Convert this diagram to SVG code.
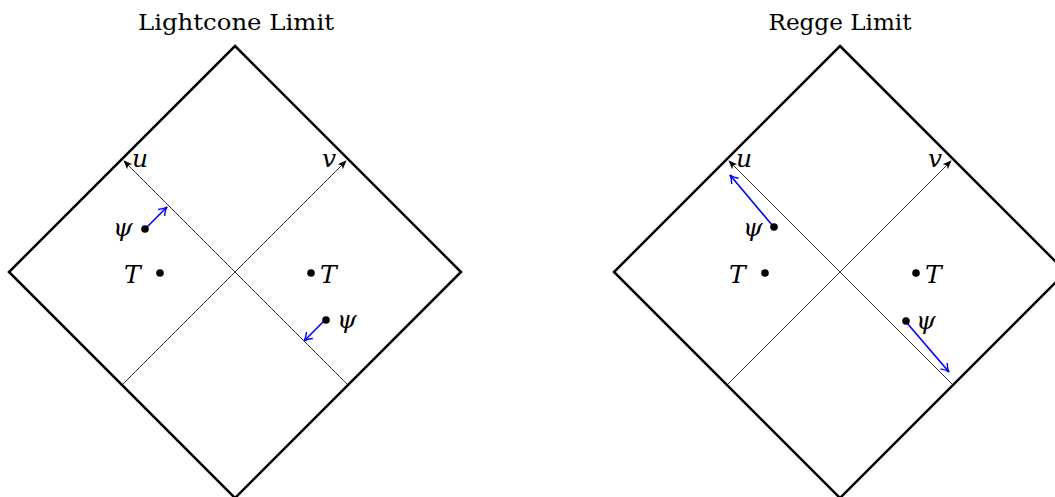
<svg xmlns="http://www.w3.org/2000/svg" width="1055" height="497" viewBox="0 0 1055 497">
<style>
.frame{fill:none;stroke:#000;stroke-width:2.5;stroke-linejoin:miter}
.axis{fill:none;stroke:#000;stroke-width:0.8}
.blue{fill:none;stroke:#0000ff;stroke-width:1.6}
.title{font-family:"DejaVu Serif","Liberation Serif",serif;font-size:23px;fill:#000}
.m{font-family:"DejaVu Serif","Liberation Serif",serif;font-style:italic;font-size:25px;fill:#000}
.dot{fill:#000}
</style>
<defs>
<marker id="ah" viewBox="0 0 10 10" refX="9" refY="5" markerWidth="9" markerHeight="9" markerUnits="userSpaceOnUse" orient="auto">
<path d="M0,1 L10,5 L0,9 L2.5,5 Z" fill="#000"/>
</marker>
<marker id="bh" viewBox="0 0 10 10" refX="9" refY="5" markerWidth="10" markerHeight="10" markerUnits="userSpaceOnUse" orient="auto">
<path d="M1,0.5 Q5,4 9,5 Q5,6 1,9.5" fill="none" stroke="#0000ff" stroke-width="1.4"/>
</marker>
</defs>
<g id="left-title"><text class="title" x="236" y="30" text-anchor="middle" textLength="196" lengthAdjust="spacingAndGlyphs">Lightcone Limit</text></g>
<g id="right-title"><text class="title" x="840" y="30" text-anchor="middle" textLength="143" lengthAdjust="spacingAndGlyphs">Regge Limit</text></g>
<g id="left-diamond"><path class="frame" d="M235,46 L461,272 L235,498 L9,272 Z"/></g>
<g id="right-diamond"><path class="frame" d="M840,46 L1066,272 L840,498 L614,272 Z"/></g>
<g id="connectors">
<line class="axis" x1="348" y1="385" x2="124" y2="161" marker-end="url(#ah)"/>
<line class="axis" x1="122" y1="385" x2="346" y2="161" marker-end="url(#ah)"/>
<line class="axis" x1="953" y1="385" x2="729" y2="161" marker-end="url(#ah)"/>
<line class="axis" x1="727" y1="385" x2="951" y2="161" marker-end="url(#ah)"/>
<line class="blue" x1="146" y1="228" x2="167" y2="207" marker-end="url(#bh)"/>
<line class="blue" x1="325" y1="320" x2="304" y2="341" marker-end="url(#bh)"/>
<line class="blue" x1="772" y1="225" x2="730" y2="175" marker-end="url(#bh)"/>
<line class="blue" x1="907" y1="323" x2="949" y2="372" marker-end="url(#bh)"/>
</g>
<g id="left-u"><text class="m" x="132" y="167">u</text></g>
<g id="left-v"><text class="m" x="322" y="167">v</text></g>
<g id="right-u"><text class="m" x="736" y="167">u</text></g>
<g id="right-v"><text class="m" x="928" y="167">v</text></g>
<g id="left-psi1"><circle class="dot" cx="145" cy="229" r="3.8"/><text class="m" x="113" y="236">ψ</text></g>
<g id="left-T1"><circle class="dot" cx="160" cy="273" r="3.8"/><text class="m" x="124" y="283">T</text></g>
<g id="left-T2"><circle class="dot" cx="311" cy="273" r="3.8"/><text class="m" x="320" y="283">T</text></g>
<g id="left-psi2"><circle class="dot" cx="326" cy="320" r="3.8"/><text class="m" x="337" y="328">ψ</text></g>
<g id="right-psi1"><circle class="dot" cx="774" cy="227" r="3.8"/><text class="m" x="743" y="236">ψ</text></g>
<g id="right-T1"><circle class="dot" cx="765" cy="273" r="3.8"/><text class="m" x="729" y="283">T</text></g>
<g id="right-T2"><circle class="dot" cx="916" cy="273" r="3.8"/><text class="m" x="925" y="283">T</text></g>
<g id="right-psi2"><circle class="dot" cx="906" cy="321" r="3.8"/><text class="m" x="916" y="329">ψ</text></g>
</svg>
